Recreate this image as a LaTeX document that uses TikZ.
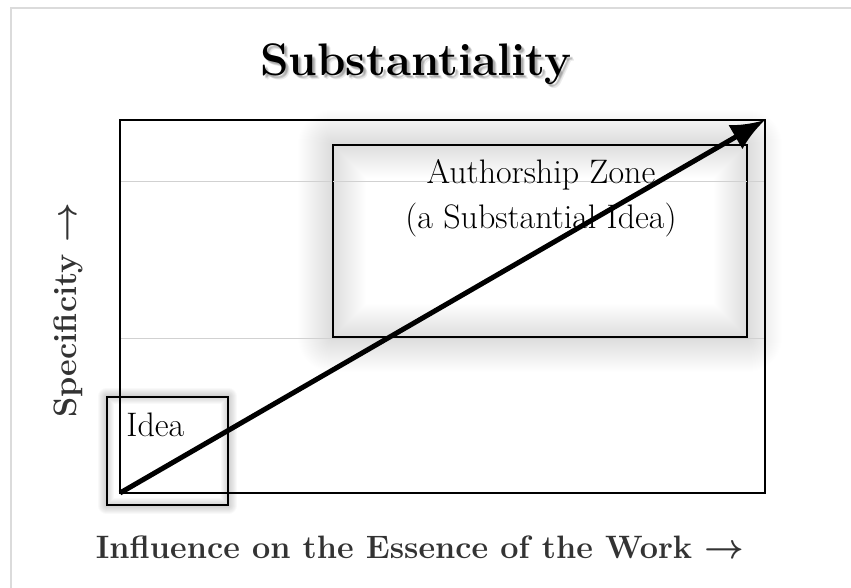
\documentclass[tikz,border=0pt]{standalone}
\usepackage{fontspec}
\usepackage{amsmath}
\usetikzlibrary{arrows.meta}

\definecolor{framegray}{gray}{0.86}
\definecolor{gridgray}{gray}{0.82}
\definecolor{labelgray}{gray}{0.2}

\tikzset{
  box/.style={draw=black, line width=0.6pt, inner sep=0pt},
  glow/.style={draw=black, line join=round},
  bodyfont/.style={font=\fontsize{17}{22.5}\selectfont},
  axislabel/.style={text=labelgray, font=\fontsize{16.2}{19}\selectfont\bfseries\boldmath},
  titlefont/.style={font=\fontsize{22.8}{26}\selectfont\bfseries},
}

\begin{document}
\begin{tikzpicture}[x=0.5pt,y=-0.5pt]

\useasboundingbox (0,0) rectangle (851,588);
\draw [framegray, line width=1pt] (11,588) -- (11,8) -- (851,8);

\coordinate (origin) at (120,493);
\coordinate (corner) at (765,120);
\coordinate (titlepos) at (416,64);

\node (zone) [box, minimum width=207pt, minimum height=96pt] at (540,241) {};
\node (idea) [box, minimum width=60.5pt, minimum height=54pt] at (167.5,451) {};

\foreach \w in {1,...,34}
  \draw [glow, opacity=0.005, line width=\w pt] (zone.north west) rectangle (zone.south east);
\foreach \w in {1,...,8}
  \draw [glow, opacity=0.025, line width=\w pt] (idea.north west) rectangle (idea.south east);

\draw [gridgray, line width=0.5pt] (origin |- 0,182) -- (corner |- 0,182);
\draw [gridgray, line width=0.5pt] (origin |- 0,338) -- (corner |- 0,338);

\draw [line width=0.7pt] (origin) rectangle (corner);
\draw [box] (zone.north west) rectangle (zone.south east);
\draw [box] (idea.north west) rectangle (idea.south east);

\draw [line width=2.5pt, -{Latex[length=17pt, width=14pt]}] (origin) -- (corner);

\node (zonetext) [bodyfont, align=center, inner sep=0pt] at (541,198) {Authorship Zone\\(a Substantial Idea)};
\node (ideatext) [bodyfont, anchor=base west, inner sep=0pt] at (126,436) {Idea};

\foreach \dx/\dy in {2/2,3/3,4/4,3/2,2/3}
  \node [titlefont, text=black, opacity=0.08] at ([xshift=0.5*\dx pt, yshift=-0.5*\dy pt]titlepos) {Substantiality};
\node (title) [titlefont] at (titlepos) {Substantiality};

\node (ylabel) [axislabel, rotate=90] at (68,310) {Specificity $\rightarrow$};
\node (xlabel) [axislabel] at (420,547) {Influence on the Essence of the Work $\rightarrow$};

\end{tikzpicture}
\end{document}
